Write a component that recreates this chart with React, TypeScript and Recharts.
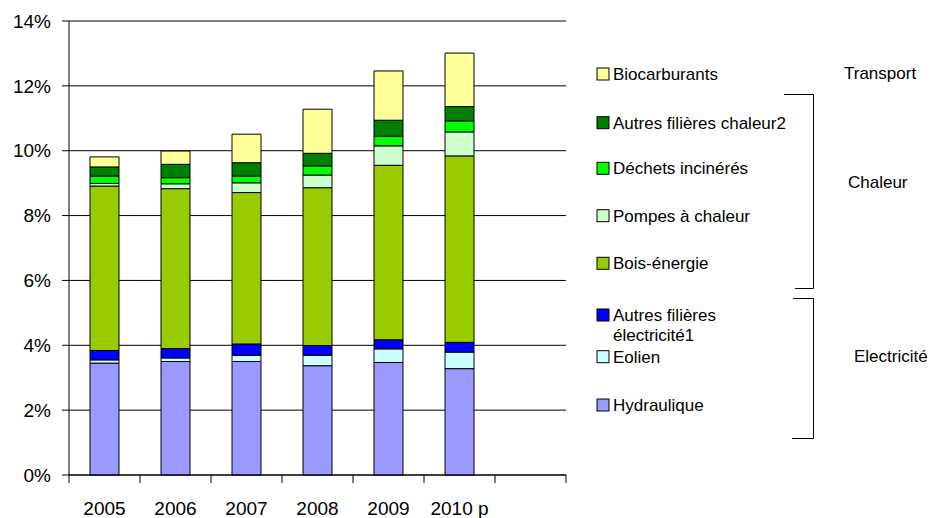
import React from "react";
import { BarChart, Bar, XAxis, YAxis, CartesianGrid } from "recharts";

const years = ["2005", "2006", "2007", "2008", "2009", "2010 p", ""];
const hydraulique = [3.45, 3.5, 3.5, 3.37, 3.47, 3.28];
const eolien = [0.1, 0.11, 0.19, 0.32, 0.42, 0.51];
const autresElec = [0.29, 0.29, 0.35, 0.3, 0.28, 0.3];
const bois = [5.07, 4.93, 4.67, 4.87, 5.38, 5.75];
const pompes = [0.08, 0.15, 0.3, 0.39, 0.6, 0.74];
const dechets = [0.23, 0.19, 0.21, 0.28, 0.3, 0.34];
const autresChaleur = [0.28, 0.41, 0.41, 0.39, 0.49, 0.44];
const biocarburants = [0.31, 0.41, 0.88, 1.36, 1.52, 1.65];
const yTicks = [0, 2, 4, 6, 8, 10, 12, 14];

const series = [
  { key: "hydraulique", name: "Hydraulique", values: hydraulique, color: "#9999FF" },
  { key: "eolien", name: "Eolien", values: eolien, color: "#CCFFFF" },
  { key: "autresElec", name: "Autres filières électricité1", values: autresElec, color: "#0000FF" },
  { key: "bois", name: "Bois-énergie", values: bois, color: "#99CC00" },
  { key: "pompes", name: "Pompes à chaleur", values: pompes, color: "#CCFFCC" },
  { key: "dechets", name: "Déchets incinérés", values: dechets, color: "#00FF00" },
  { key: "autresChaleur", name: "Autres filières chaleur2", values: autresChaleur, color: "#008000" },
  { key: "biocarburants", name: "Biocarburants", values: biocarburants, color: "#FFFF99" },
];

const data = years.map((y, i) => {
  const row: any = { year: y };
  series.forEach((s) => {
    if (i < s.values.length) row[s.key] = s.values[i];
  });
  return row;
});

// legend layout (style only)
const legendOrder = [
  "biocarburants",
  "autresChaleur",
  "dechets",
  "pompes",
  "bois",
  "autresElec",
  "eolien",
  "hydraulique",
];
const legendCenters = [74, 122.7, 168.3, 215.7, 263.3, 315, 356.7, 405];

const groups = [
  { label: "Transport", x: 844, y: 79 },
  { label: "Chaleur", x: 848, y: 188 },
  { label: "Electricité", x: 854, y: 362 },
];

const FONT = "'Liberation Sans', Arial, Helvetica, sans-serif";

const XTick = (props: any) => {
  const { x, y, payload, index, visibleTicksCount } = props;
  const half = payload && payload.offset ? payload.offset : 35.45;
  const isLast = index === (visibleTicksCount ? visibleTicksCount - 1 : years.length - 1);
  return (
    <g>
      <line x1={x - half} x2={x - half} y1={y - 8} y2={y} stroke="#000" strokeWidth={1} />
      {isLast && (
        <line x1={x + half} x2={x + half} y1={y - 8} y2={y} stroke="#000" strokeWidth={1} />
      )}
      <text
        x={x}
        y={y + 32}
        textAnchor="middle"
        fill="#000"
        fontSize={19}
        fontFamily={FONT}
      >
        {payload.value}
      </text>
    </g>
  );
};

export default function App() {
  return (
    <div style={{ position: "absolute", left: 0, top: 0, width: 931, height: 518, background: "#fff" }}>
      <BarChart
        width={931}
        height={518}
        data={data}
        margin={{ top: 21, right: 365, left: 0, bottom: 0 }}
        barSize={29}
      >
        <CartesianGrid vertical={false} stroke="#000" strokeWidth={1} />
        <XAxis
          dataKey="year"
          height={43}
          tickLine={false}
          tickSize={8}
          tickMargin={0}
          axisLine={{ stroke: "#000", strokeWidth: 1 }}
          tick={<XTick />}
          interval={0}
        />
        <YAxis
          width={69}
          domain={[0, 14]}
          ticks={yTicks}
          tickFormatter={(v: number) => `${v}%`}
          tickSize={7}
          tickMargin={11}
          tickLine={{ stroke: "#000" }}
          axisLine={{ stroke: "#000", strokeWidth: 1 }}
          tick={{ fill: "#000", fontSize: 19, fontFamily: FONT }}
          interval={0}
        />
        {series.map((s) => (
          <Bar
            key={s.key}
            dataKey={s.key}
            name={s.name}
            stackId="a"
            fill={s.color}
            stroke="#000"
            strokeWidth={1}
            isAnimationActive={false}
          />
        ))}
      </BarChart>
      <svg
        width={931}
        height={518}
        style={{ position: "absolute", left: 0, top: 0, pointerEvents: "none" }}
      >
        {legendOrder.map((k, i) => {
          const s = series.find((d) => d.key === k)!;
          const cy = legendCenters[i];
          const lines = k === "autresElec" ? ["Autres filières", "électricité1"] : [s.name];
          return (
            <g key={k}>
              <rect x={597} y={cy - 6} width={12} height={12} fill={s.color} stroke="#000" strokeWidth={1} />
              {lines.map((ln, j) => (
                <text key={j} x={613} y={cy + 6 + j * 19.5} fontSize={17} fontFamily={FONT} fill="#000">
                  {ln}
                </text>
              ))}
            </g>
          );
        })}
        {groups.map((g) => (
          <text key={g.label} x={g.x} y={g.y} fontSize={17} fontFamily={FONT} fill="#000">
            {g.label}
          </text>
        ))}
        <path d="M784,94.5 H813.5 V288.5 H795" fill="none" stroke="#000" strokeWidth={1} />
        <path d="M793,298.5 H813.5 V438.5 H792" fill="none" stroke="#000" strokeWidth={1} />
      </svg>
    </div>
  );
}
